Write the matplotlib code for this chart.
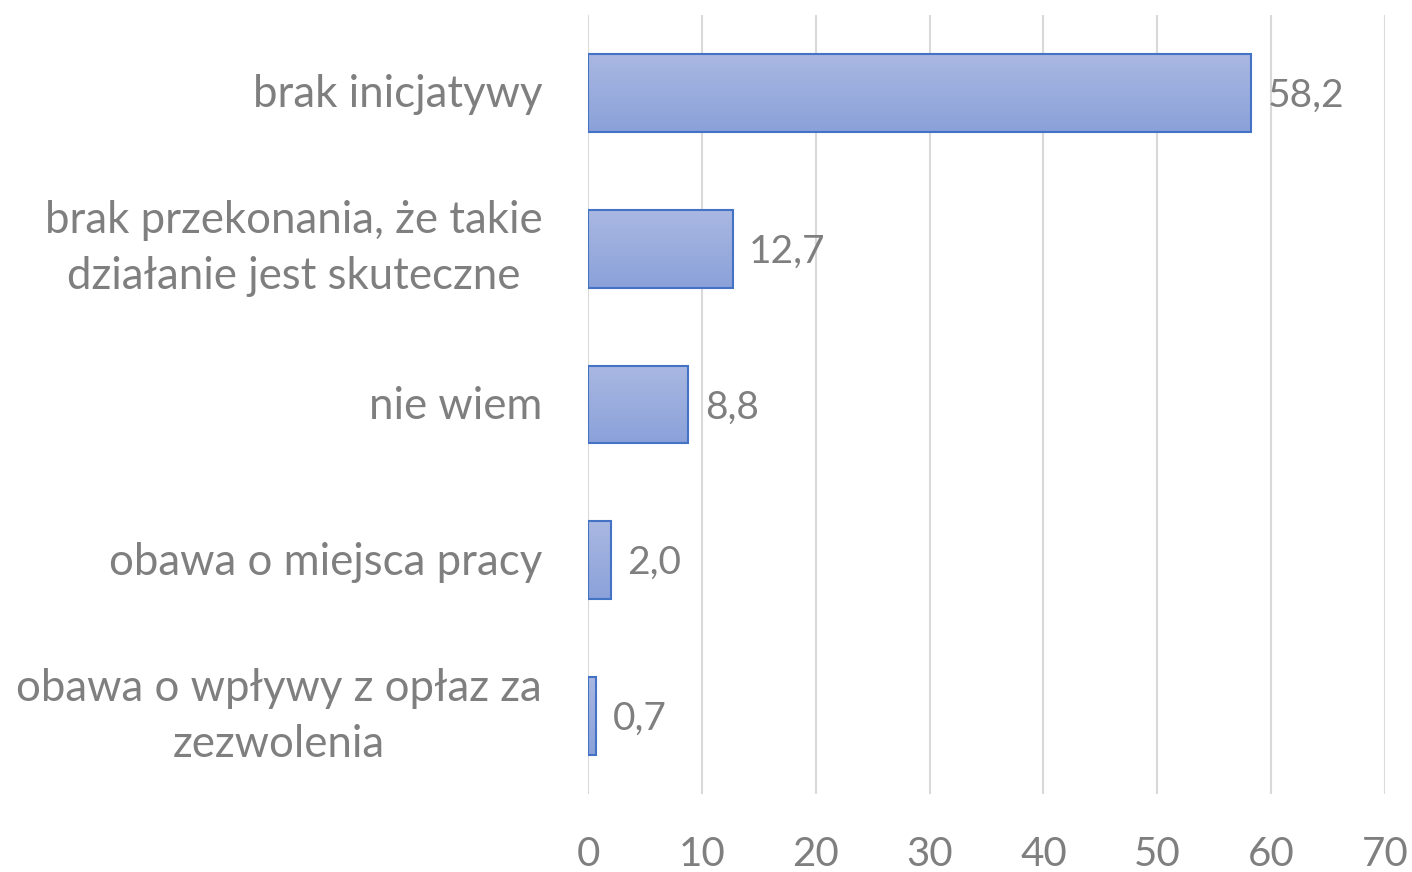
import numpy as np
import matplotlib
matplotlib.use("Agg")
import matplotlib.pyplot as plt
from matplotlib.colors import LinearSegmentedColormap

categories = ["brak inicjatywy",
              "brak przekonania, że takie\ndziałanie jest skuteczne",
              "nie wiem",
              "obawa o miejsca pracy",
              "obawa o wpływy z opłaz za\nzezwolenia"]
values = [58.2, 12.7, 8.8, 2.0, 0.7]
labels = ["58,2", "12,7", "8,8", "2,0", "0,7"]
xticks = [0, 10, 20, 30, 40, 50, 60, 70]

plt.rcParams['font.family'] = ['Lato', 'DejaVu Sans']
text_color = '#7f7f7f'

fig = plt.figure(figsize=(14.12, 8.72), dpi=100)
ax = fig.add_axes([588/1412, 1-794/872, (1385-588)/1412, (794-15)/872])

y = np.arange(len(categories))
bars = ax.barh(y, values, height=0.5, color='none', edgecolor='#4472c4', linewidth=1.5, zorder=3)

cmap = LinearSegmentedColormap.from_list('g', ['#aab8e2', '#8aa1d9'])
grad = np.linspace(0, 1, 256).reshape(-1, 1)
for b in bars:
    x0, y0 = b.get_x(), b.get_y()
    w, h = b.get_width(), b.get_height()
    im = ax.imshow(grad, cmap=cmap, aspect='auto', extent=[x0, x0 + w, y0 + h, y0],
                   origin='upper', zorder=2)
    im.set_clip_path(b)

ax.set_xlim(0, 70)
ax.set_ylim(len(categories) - 0.5, -0.5)
ax.set_yticks(y)
ax.set_yticklabels([])
for yi, cat in zip(y, categories):
    dy = 0 if '\n' in cat else -1.5
    ax.annotate(cat, (0, yi), xycoords=ax.get_yaxis_transform(),
                xytext=(-33, dy), textcoords='offset points',
                ha='right', va='center', multialignment='center',
                fontsize=31.5, color=text_color, linespacing=1.45)
ax.set_xticks(xticks)
ax.set_xticklabels([str(t) for t in xticks], fontsize=29, color=text_color)
ax.tick_params(axis='y', length=0, pad=33)
ax.tick_params(axis='x', length=0, pad=30)
ax.grid(axis='x', color='#d9d9d9', linewidth=1.5, zorder=0)
ax.set_axisbelow(True)
for s in ax.spines.values():
    s.set_visible(False)

for b, lab in zip(bars, labels):
    ax.annotate(lab, (b.get_width(), b.get_y() + b.get_height() / 2),
                xytext=(12, -2), textcoords='offset points', va='center', ha='left',
                fontsize=28, color=text_color)

fig.savefig('out.png', dpi=100, facecolor='white')
